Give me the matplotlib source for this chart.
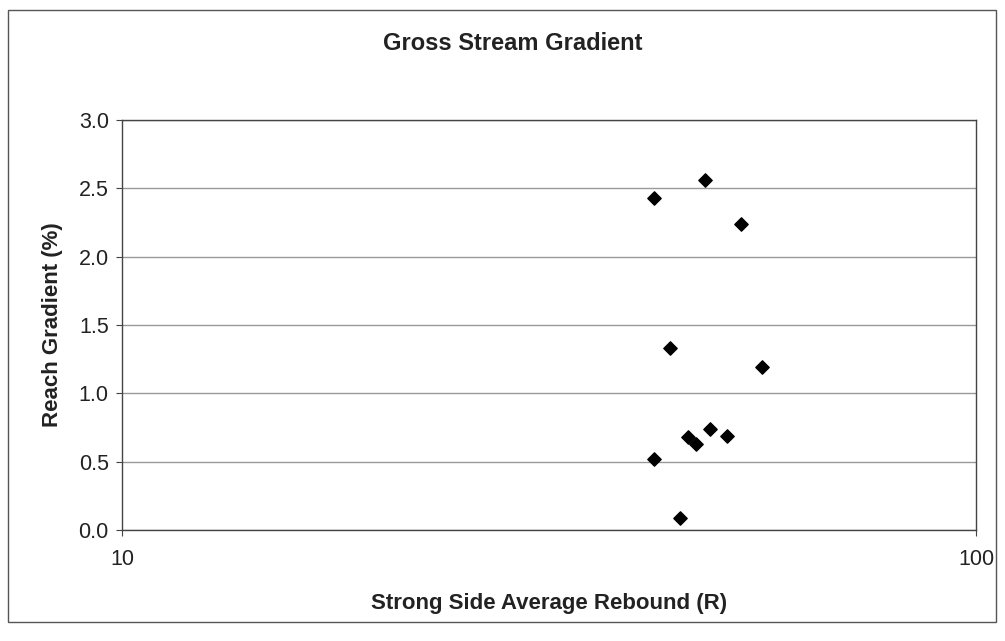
import matplotlib.pyplot as plt
from matplotlib.patches import Rectangle

plt.rcParams["font.family"] = ["Liberation Sans", "DejaVu Sans"]

# rebound hammer readings (strong side average) vs reach gradient
rebound = [48.2, 42.0, 53.0, 43.8, 56.1, 42.0, 45.0, 48.8, 51.1, 46.0, 47.0]
gradient = [2.56, 2.43, 2.24, 1.33, 1.19, 0.52, 0.09, 0.74, 0.69, 0.68, 0.63]

y_ticks = [0.0, 0.5, 1.0, 1.5, 2.0, 2.5, 3.0]
x_ticks = [10, 100]

W, H = 1005, 641
fig = plt.figure(figsize=(W / 100, H / 100), dpi=100)
ax = fig.add_axes([122 / W, 1 - 530 / H, 854 / W, 410 / H])

# chart frame
fig.patches.append(Rectangle((8 / W, 1 - 622 / H), 988 / W, 612 / H,
                             transform=fig.transFigure, fill=False,
                             edgecolor="#555555", lw=1.0))

ax.scatter(rebound, gradient, marker="D", s=46, color="black", zorder=3)

ax.set_xscale("log")
ax.set_xlim(10, 100)
ax.set_ylim(0, 3.0)
ax.set_xticks(x_ticks)
ax.set_xticklabels([str(t) for t in x_ticks])
ax.minorticks_off()
ax.set_yticks(y_ticks)
ax.set_yticklabels([f"{t:.1f}" for t in y_ticks])

ax.grid(axis="y", color="#999999", lw=1.0)
ax.set_axisbelow(True)
for s in ax.spines.values():
    s.set_color("#444444")
    s.set_linewidth(1.0)

ax.tick_params(axis="both", direction="out", length=4.5, color="#444444",
               labelsize=15.5, labelcolor="#222222")
ax.tick_params(axis="x", pad=9)
ax.tick_params(axis="y", pad=5)

ax.set_xlabel("Strong Side Average Rebound (R)", fontsize=16,
              fontweight="bold", color="#222222", va="center")
ax.xaxis.set_label_coords(0.5, (530 - 604) / 410)
ax.set_ylabel("Reach Gradient (%)", fontsize=16, fontweight="bold",
              color="#222222", va="center")
ax.yaxis.set_label_coords((52 - 122) / 854, 0.5)
fig.text(513 / W, 1 - 43 / H, "Gross Stream Gradient",
         ha="center", va="center", fontsize=17, fontweight="bold", color="#222222")

fig.savefig("out.png", dpi=100)
